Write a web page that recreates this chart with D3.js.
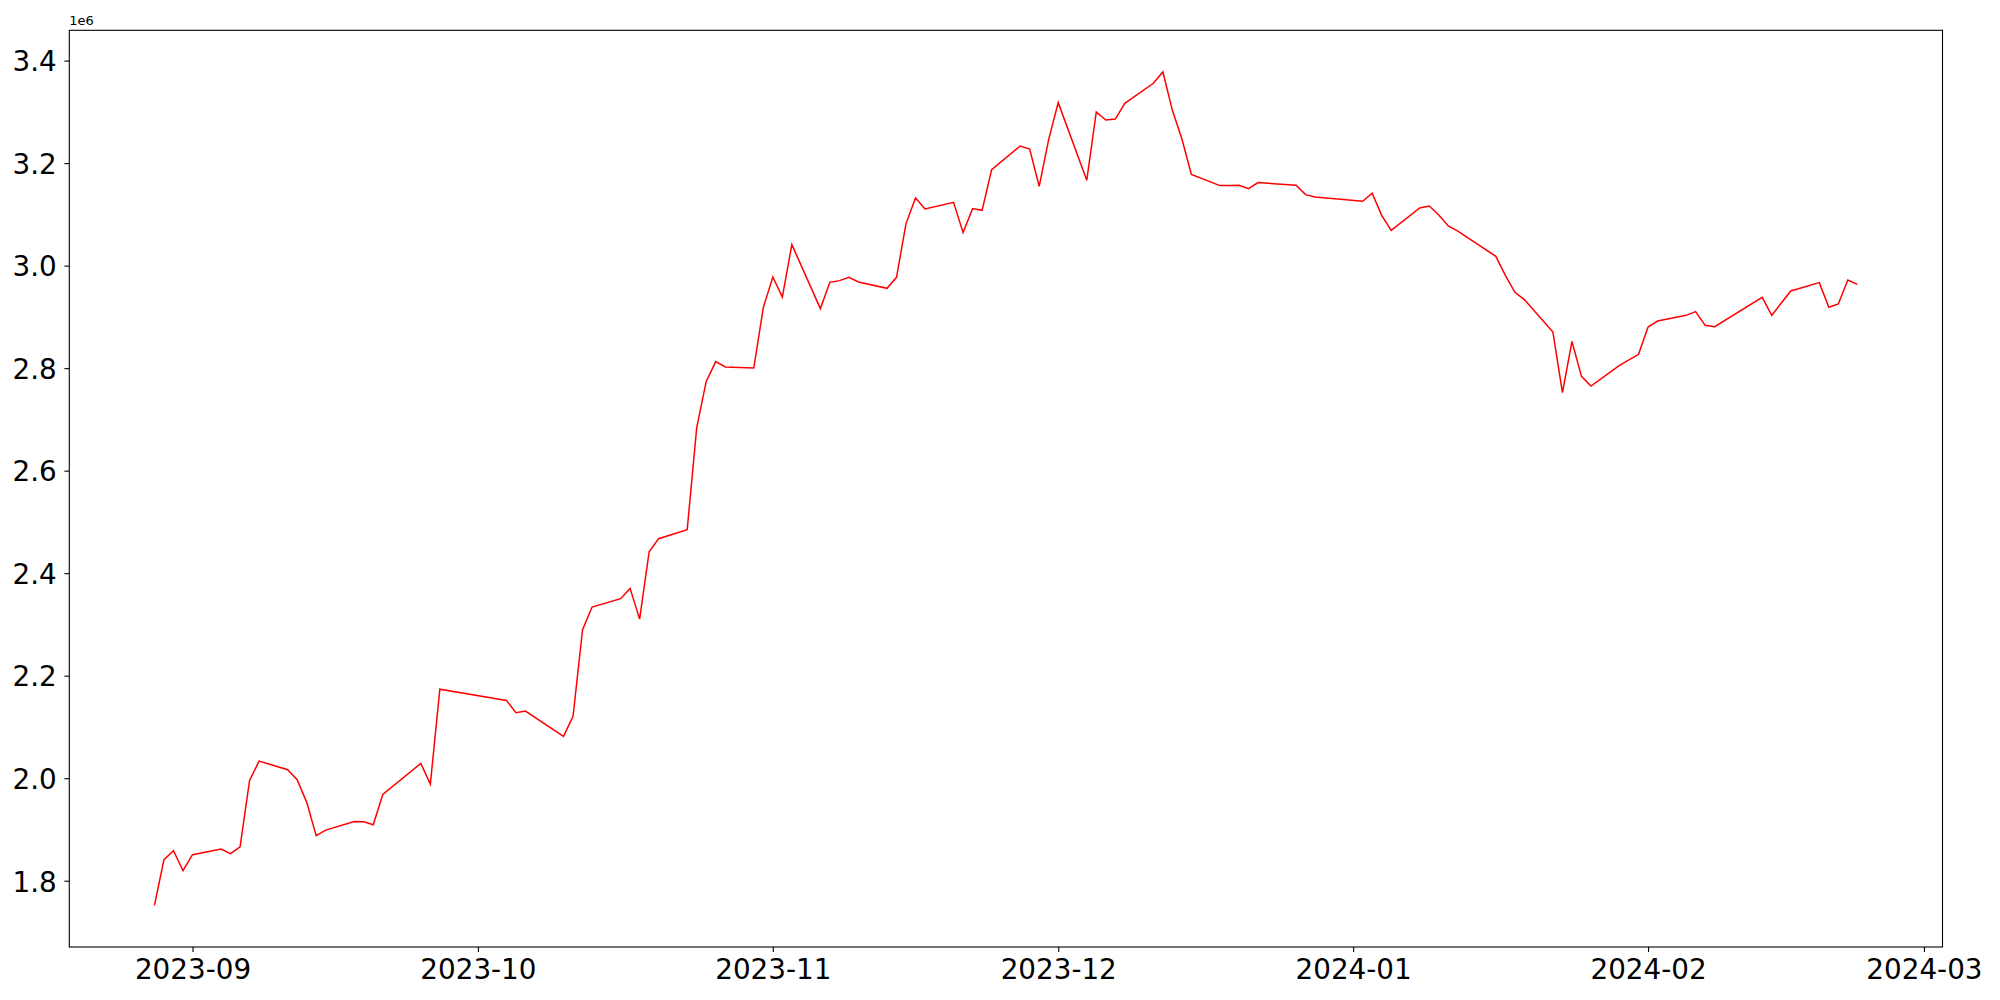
<!DOCTYPE html>
<html>
<head>
<meta charset="utf-8">
<script src="https://cdn.jsdelivr.net/npm/d3@7/dist/d3.min.js"></script>
<style>
  body { margin: 0; background: #fff; }
  text { font-family: "DejaVu Sans", sans-serif; }
</style>
</head>
<body>
<div id="chart"></div>
<script>
// trading days (KRX calendar) and closing values
var dates = [
  "2023-08-28","2023-08-29","2023-08-30","2023-08-31","2023-09-01",
  "2023-09-04","2023-09-05","2023-09-06","2023-09-07","2023-09-08",
  "2023-09-11","2023-09-12","2023-09-13","2023-09-14","2023-09-15",
  "2023-09-18","2023-09-19","2023-09-20","2023-09-21",
  "2023-09-25","2023-09-26","2023-09-27",
  "2023-10-04","2023-10-05","2023-10-06",
  "2023-10-10","2023-10-11","2023-10-12","2023-10-13",
  "2023-10-16","2023-10-17","2023-10-18","2023-10-19","2023-10-20",
  "2023-10-23","2023-10-24","2023-10-25","2023-10-26","2023-10-27",
  "2023-10-30","2023-10-31","2023-11-01","2023-11-02","2023-11-03",
  "2023-11-06","2023-11-07","2023-11-08","2023-11-09","2023-11-10",
  "2023-11-13","2023-11-14","2023-11-15","2023-11-16","2023-11-17",
  "2023-11-20","2023-11-21","2023-11-22","2023-11-23","2023-11-24",
  "2023-11-27","2023-11-28","2023-11-29","2023-11-30","2023-12-01",
  "2023-12-04","2023-12-05","2023-12-06","2023-12-07","2023-12-08",
  "2023-12-11","2023-12-12","2023-12-13","2023-12-14","2023-12-15",
  "2023-12-18","2023-12-19","2023-12-20","2023-12-21","2023-12-22",
  "2023-12-26","2023-12-27","2023-12-28",
  "2024-01-02","2024-01-03","2024-01-04","2024-01-05",
  "2024-01-08","2024-01-09","2024-01-10","2024-01-11","2024-01-12",
  "2024-01-16","2024-01-17","2024-01-18","2024-01-19",
  "2024-01-22","2024-01-23","2024-01-24","2024-01-25","2024-01-26",
  "2024-01-29","2024-01-31","2024-02-01","2024-02-02",
  "2024-02-05","2024-02-06","2024-02-07","2024-02-08",
  "2024-02-13","2024-02-14","2024-02-16",
  "2024-02-19","2024-02-20","2024-02-21","2024-02-22","2024-02-23"
];

var values = [
  1752000,1841000,1858500,1819500,1850700,
  1861700,1852700,1866300,1995700,2033400,
  2016600,1997100,1953400,1887800,1898700,
  1915700,1915100,1909300,1968400,
  2028900,1988500,2173700,
  2151800,2127800,2130900,
  2081600,2120600,2289800,2333900,
  2350200,2370300,2310400,2441900,2467300,
  2484900,2683900,2774100,2812700,2802200,
  2800200,2918100,2977800,2938700,3041000,
  2916100,2967400,2970700,2977100,2968000,
  2955700,2977100,3082000,3131900,3110400,
  3123500,3064400,3111200,3107900,3187300,
  3233300,3227500,3154700,3246400,3318000,
  3166400,3299700,3284100,3286000,3316700,
  3355700,3377800,3303000,3247000,3178100,
  3156100,3156100,3156700,3150200,3162000,
  3156700,3138500,3133800,
  3125400,3141100,3098200,3068900,
  3112400,3116300,3098800,3077300,3067500,
  3018100,2981100,2947900,2933600,
  2870400,2752200,2852300,2784000,2765100,
  2805500,2826900,2880200,2891900,
  2903000,2910200,2883500,2881000,
  2938100,2903000,2950500,
  2966800,2918700,2925100,2971900,2963500
];

var xTickLabels = ["2023-09-01","2023-10-01","2023-11-01","2023-12-01","2024-01-01","2024-02-01","2024-03-01"];
var yTickValues = [1800000,2000000,2200000,2400000,2600000,2800000,3000000,3200000,3400000];

(function(){

  var ch = {

    initialize: function() {
      ch.svg = d3.select("#chart").append("svg")
                  .attr("width", 2000)
                  .attr("height", 1000);

      ch.margin = {top: 30.3, right: 57.5, bottom: 53, left: 69.3};
      ch.width = 2000 - ch.margin.left - ch.margin.right;
      ch.height = 1000 - ch.margin.top - ch.margin.bottom;

      ch.parseTime = d3.timeParse("%Y-%m-%d");
      ch.data = dates.map(function(d, i) {
        return {date: ch.parseTime(d), value: values[i]};
      });

      // matplotlib-like 5% padding on both axes
      var xExt = d3.extent(ch.data, function(d) { return d.date; });
      var xPad = (xExt[1] - xExt[0]) * 0.05;
      ch.x = d3.scaleTime()
               .domain([new Date(+xExt[0] - xPad), new Date(+xExt[1] + xPad)])
               .range([0, ch.width]);

      var yExt = d3.extent(values);
      var yPad = (yExt[1] - yExt[0]) * 0.05;
      ch.y = d3.scaleLinear()
               .domain([yExt[0] - yPad, yExt[1] + yPad])
               .range([ch.height, 0]);

      ch.line = d3.line()
              .curve(d3.curveLinear)
              .x(function(d) { return ch.x(d.date); })
              .y(function(d) { return ch.y(d.value); });
    },

    draw: function() {
      var g = ch.svg.append("g")
                    .attr("transform", "translate(" + ch.margin.left + "," + ch.margin.top + ")");

      // x axis
      var xAxis = g.append("g")
          .attr("transform", "translate(0," + ch.height + ")")
          .call(d3.axisBottom(ch.x)
              .tickValues(xTickLabels.map(ch.parseTime))
              .tickFormat(d3.timeFormat("%Y-%m"))
              .tickSize(4.9)
              .tickPadding(7.5));
      xAxis.select(".domain").remove();
      xAxis.selectAll("text")
          .attr("font-size", "27.8px")
          .attr("font-family", "DejaVu Sans")
          .attr("fill", "#000");
      xAxis.selectAll("line").attr("stroke", "#000").attr("stroke-width", 1.1);

      // y axis
      var yAxis = g.append("g")
          .call(d3.axisLeft(ch.y)
              .tickValues(yTickValues)
              .tickFormat(function(d) { return (d / 1e6).toFixed(1); })
              .tickSize(4.9)
              .tickPadding(7.7));
      yAxis.select(".domain").remove();
      yAxis.selectAll("text")
          .attr("font-size", "27.8px")
          .attr("font-family", "DejaVu Sans")
          .attr("dy", "0.37em")
          .attr("fill", "#000");
      yAxis.selectAll("line").attr("stroke", "#000").attr("stroke-width", 1.1);

      // offset text
      g.append("text")
          .attr("x", 0)
          .attr("y", -5)
          .attr("font-size", "13px")
          .attr("fill", "#000")
          .text("1e6");

      // the series
      g.append("path")
          .datum(ch.data)
          .attr("fill", "none")
          .attr("stroke", "red")
          .attr("stroke-width", 1.5)
          .attr("stroke-linejoin", "miter")
          .attr("d", ch.line);

      // frame
      g.append("rect")
          .attr("width", ch.width)
          .attr("height", ch.height)
          .attr("fill", "none")
          .attr("stroke", "#000")
          .attr("stroke-width", 1.1);
    }
  };

  ch.initialize();
  ch.draw();
})();
</script>
</body>
</html>
